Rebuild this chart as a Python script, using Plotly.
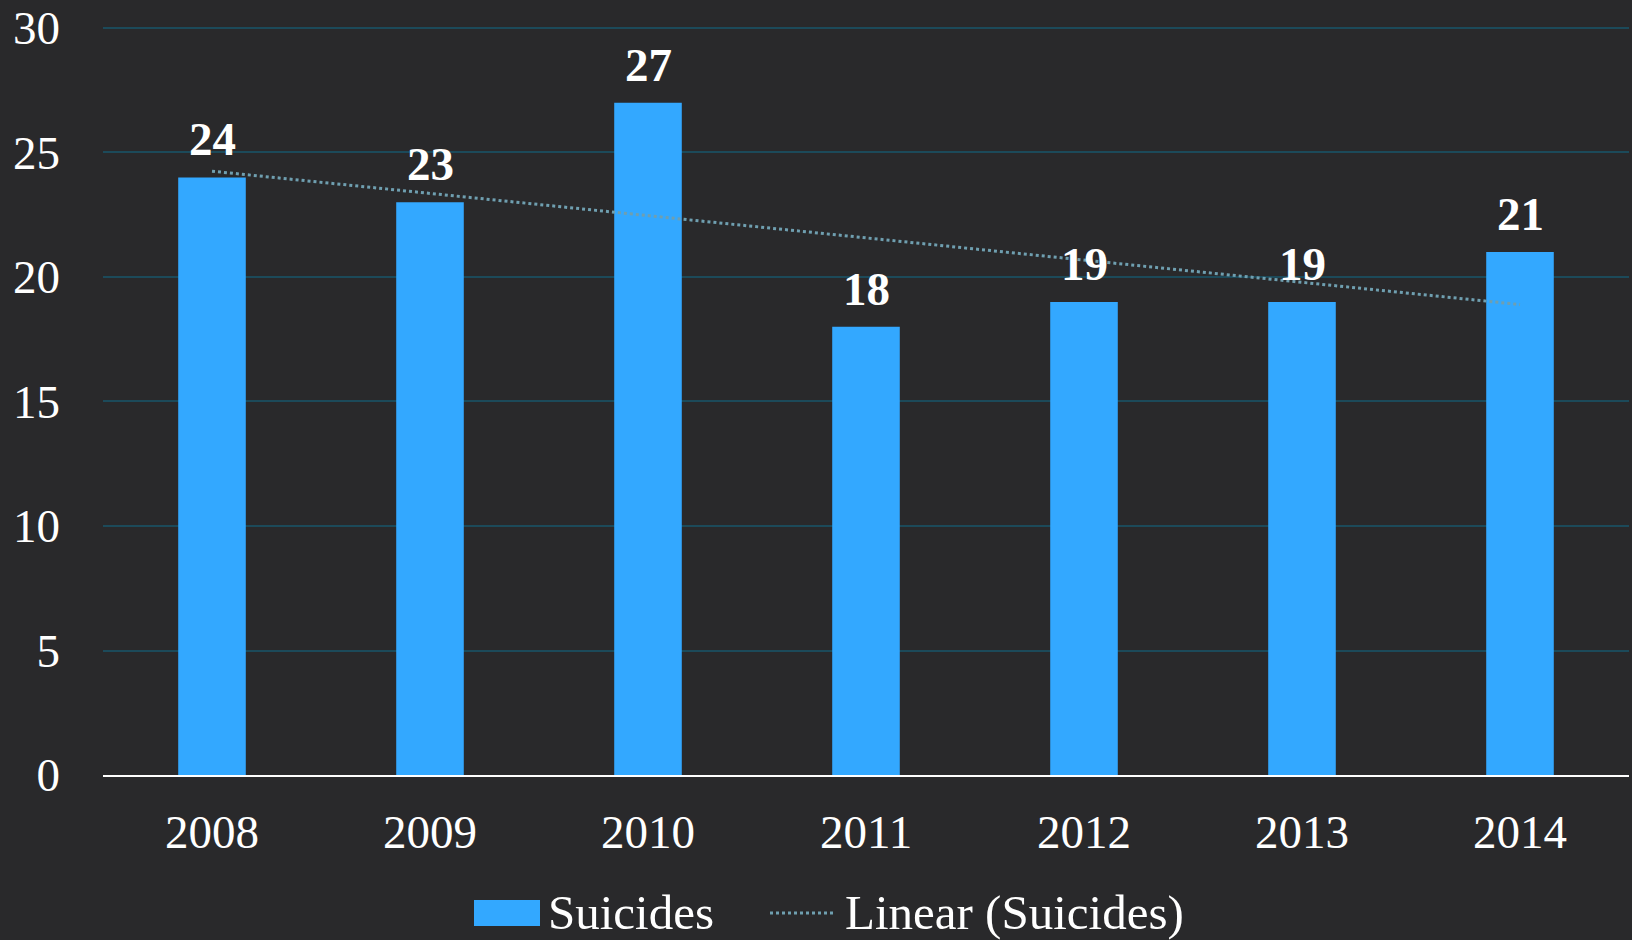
import numpy as np
import plotly.graph_objects as go

years = ["2008", "2009", "2010", "2011", "2012", "2013", "2014"]
suicides = [24, 23, 27, 18, 19, 19, 21]
y_ticks = [0, 5, 10, 15, 20, 25, 30]
series_name = "Suicides"
trend_name = "Linear (Suicides)"

BG = "#29292b"
BAR = "#33a8ff"
GRID = "#1c4a5a"
TREND = "#6f9fb0"
FONT = "Liberation Serif"

# linear trend of the data
xi = np.arange(1, len(suicides) + 1)
slope, intercept = np.polyfit(xi, suicides, 1)
trend = slope * xi + intercept

fig = go.Figure()
fig.add_trace(go.Bar(x=years, y=suicides, marker=dict(color=BAR, line=dict(width=0)),
                     width=0.31, name=series_name, showlegend=False))
fig.add_trace(go.Scatter(x=years, y=trend, mode="lines", name=trend_name,
                         line=dict(color=TREND, width=3, dash="dot"), showlegend=False))

# data labels: category axes take the serial index of each category
for i, v in enumerate(suicides):
    fig.add_annotation(x=i, y=v, text=f"<b>{v}</b>", showarrow=False, yanchor="bottom",
                       yshift=10, font=dict(family=FONT, size=47, color="white"))

# custom legend (pixel positions converted to paper coords)
L, R, T, B = 103, 1629, 25, 775
px = lambda X: (X - L) / (R - L)
py = lambda Y: (B - Y) / (B - T)
fig.add_shape(type="rect", xref="paper", yref="paper", x0=px(474), x1=px(540), y0=py(926), y1=py(900),
              fillcolor=BAR, line=dict(width=0))
fig.add_annotation(xref="paper", yref="paper", x=px(546), y=py(912), xanchor="left", yanchor="middle",
                   text=series_name, showarrow=False, font=dict(family=FONT, size=49, color="white"))
fig.add_shape(type="line", xref="paper", yref="paper", x0=px(770), x1=px(836), y0=py(913), y1=py(913),
              line=dict(color=TREND, width=3, dash="dot"))
fig.add_annotation(xref="paper", yref="paper", x=px(843), y=py(912), xanchor="left", yanchor="middle",
                   text=trend_name, showarrow=False, font=dict(family=FONT, size=49, color="white"))

fig.update_layout(
    width=1632, height=940,
    margin=dict(l=L, r=1632 - R, t=T, b=940 - B, pad=0),
    paper_bgcolor=BG, plot_bgcolor=BG,
    font=dict(family=FONT, size=47, color="white"),
)
fig.update_xaxes(type="category", range=[-0.5, len(years) - 0.5], showgrid=False, showline=True,
                 linecolor="white", linewidth=2,
                 tickfont=dict(size=47, color="white"), ticks="", ticklabelstandoff=15)
fig.update_yaxes(range=[0, 30.12], tickvals=y_ticks, showgrid=True, gridcolor=GRID, gridwidth=2,
                 zeroline=False, showline=False, tickfont=dict(size=47, color="white"),
                 ticks="", ticklabelstandoff=42)

fig.write_html("out.html", config={"displayModeBar": False},
               post_script="document.body.style.margin='0';document.body.style.overflow='hidden';"
                           "document.body.style.background='" + BG + "';")
